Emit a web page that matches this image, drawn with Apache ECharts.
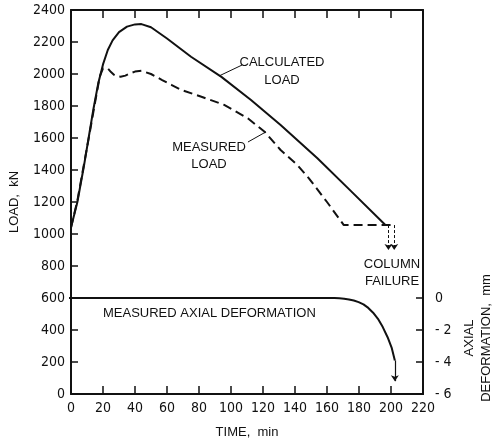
<!DOCTYPE html>
<html>
<head>
    <meta charset="UTF-8">
    <title></title>
    <script type="text/javascript" src="https://cdn.jsdelivr.net/npm/echarts@6/dist/echarts.min.js"></script>
    <style>
        body { margin: 0; background: #fff; }
        #main { width: 492px; height: 444px; }
    </style>
</head>
<body>
<div id="main"></div>
<script>
    // 计算荷载 (solid)
    var calcTime = [0, 4, 8, 11, 14, 17, 20, 23, 26, 30, 35, 40, 44, 50, 60, 75, 94, 112.5, 131, 154, 175, 196.5];
    var calcLoad = [1040, 1200, 1420, 1600, 1780, 1940, 2060, 2150, 2210, 2262, 2296, 2310, 2312, 2292, 2222, 2108, 1982, 1838, 1681, 1473, 1268, 1056];
    // 实测荷载 (dashed)
    var measTime = [0, 4, 8, 12, 15, 18, 20, 21, 23, 25, 27, 29, 31, 34, 37, 40, 44, 50, 57, 63, 69, 81.5, 96, 110.5, 121, 131, 141.5, 148.7, 160, 170.5, 201.5];
    var measLoad = [1040, 1210, 1430, 1650, 1820, 1985, 2035, 2046, 2035, 2012, 1994, 1985, 1983, 1990, 2004, 2015, 2020, 2000, 1962, 1931, 1900, 1858, 1806, 1723, 1639, 1525, 1431, 1348, 1200, 1056, 1056];
    // 实测轴向变形 (mm)
    var defTime = [0, 165, 168, 171, 174, 177, 180, 183, 186, 189, 192, 195, 198, 200.5, 202.5];
    var defVal = [0, 0, -0.01, -0.04, -0.09, -0.16, -0.26, -0.4, -0.62, -0.92, -1.3, -1.82, -2.45, -3.1, -3.9];

    var loadTicks = [0, 2400, 200];
    var timeTicks = [0, 220, 20];
    var defTicks = [-6, 0, 2];

    function zip(a, b) {
        var out = [];
        for (var i = 0; i < a.length; i++) out.push([a[i], b[i]]);
        return out;
    }

    var tickFont = "'Liberation Sans Narrow', 'DejaVu Sans Condensed', sans-serif";
    var textFont = "'Liberation Sans', sans-serif";
    var black = '#111';

    var myChart = echarts.init(document.getElementById('main'));
    myChart.setOption({
        animation: false,
        backgroundColor: '#fff',
        grid: [
            {left: 69, right: 69, top: 10, bottom: 50},
            {left: 69, right: 69, top: 298, bottom: 50}
        ],
        xAxis: [{
            type: 'value', gridIndex: 0, position: 'bottom',
            min: timeTicks[0], max: timeTicks[1], interval: timeTicks[2],
            name: 'TIME,  min', nameLocation: 'middle', nameGap: 32,
            nameTextStyle: {fontFamily: textFont, fontSize: 13, color: black},
            axisLine: {show: true, onZero: false, lineStyle: {color: black, width: 2}},
            axisTick: {show: true, inside: true, length: 8, lineStyle: {color: black, width: 1.5}},
            axisLabel: {margin: 7, fontFamily: tickFont, fontSize: 14, color: black},
            splitLine: {show: false}
        }, {
            type: 'value', gridIndex: 0, position: 'top',
            min: timeTicks[0], max: timeTicks[1], interval: timeTicks[2],
            axisLine: {show: true, onZero: false, lineStyle: {color: black, width: 2}},
            axisTick: {show: true, inside: true, length: 8, lineStyle: {color: black, width: 1.5}},
            axisLabel: {show: false},
            splitLine: {show: false}
        }, {
            type: 'value', gridIndex: 1, position: 'bottom',
            min: timeTicks[0], max: timeTicks[1],
            axisLine: {show: false, onZero: false},
            axisTick: {show: false},
            axisLabel: {show: false},
            splitLine: {show: false}
        }],
        yAxis: [{
            type: 'value', gridIndex: 0, position: 'left',
            min: loadTicks[0], max: loadTicks[1], interval: loadTicks[2],
            name: 'LOAD,  kN', nameLocation: 'middle', nameGap: 50,
            nameTextStyle: {fontFamily: textFont, fontSize: 13, color: black},
            axisLine: {show: true, onZero: false, lineStyle: {color: black, width: 2}},
            axisTick: {show: true, inside: true, length: 7, lineStyle: {color: black, width: 1.5}},
            axisLabel: {
                margin: 6, fontFamily: tickFont, fontSize: 14, color: black,
                formatter: function (v) { return String(v); }
            },
            splitLine: {show: false}
        }, {
            type: 'value', gridIndex: 0, position: 'right',
            min: loadTicks[0], max: loadTicks[1], interval: loadTicks[2],
            axisLine: {show: true, onZero: false, lineStyle: {color: black, width: 2}},
            axisTick: {show: false},
            axisLabel: {show: false},
            splitLine: {show: false}
        }, {
            type: 'value', gridIndex: 1, position: 'right',
            min: defTicks[0], max: defTicks[1], interval: defTicks[2],
            axisLine: {show: true, onZero: false, lineStyle: {color: black, width: 2}},
            axisTick: {show: true, inside: true, length: 7, lineStyle: {color: black, width: 1.5}},
            axisLabel: {
                margin: 12, fontFamily: tickFont, fontSize: 14, color: black,
                formatter: function (v) { return v === 0 ? '0' : '- ' + Math.abs(v); }
            },
            splitLine: {show: false}
        }],
        graphic: [
            {type: 'text', x: 282, y: 71, style: {text: 'CALCULATED\nLOAD', font: '13px ' + textFont, fill: black, textAlign: 'center', textVerticalAlign: 'middle', lineHeight: 18}},
            {type: 'text', x: 209, y: 156, style: {text: 'MEASURED\nLOAD', font: '13px ' + textFont, fill: black, textAlign: 'center', textVerticalAlign: 'middle', lineHeight: 17}},
            {type: 'text', x: 392, y: 273, style: {text: 'COLUMN\nFAILURE', font: '13px ' + textFont, fill: black, textAlign: 'center', textVerticalAlign: 'middle', lineHeight: 17}},
            {type: 'text', x: 103, y: 313, style: {text: 'MEASURED AXIAL DEFORMATION', font: '13px ' + textFont, fill: black, textAlign: 'left', textVerticalAlign: 'middle'}},
            {type: 'text', x: 478, y: 338, rotation: Math.PI / 2, style: {text: 'AXIAL\nDEFORMATION,  mm', font: '13px ' + textFont, fill: black, textAlign: 'center', textVerticalAlign: 'middle', lineHeight: 17}}
        ],
        series: [{
            name: 'Calculated load',
            type: 'line', xAxisIndex: 0, yAxisIndex: 0,
            data: zip(calcTime, calcLoad),
            showSymbol: false, silent: true,
            lineStyle: {color: black, width: 2},
            markLine: {
                silent: true, symbol: ['none', 'none'],
                label: {show: false},
                lineStyle: {color: black, width: 1, type: 'solid'},
                data: [[{coord: [106.9, 2056]}, {coord: [92.6, 1988]}]]
            }
        }, {
            name: 'Measured load',
            type: 'line', xAxisIndex: 0, yAxisIndex: 0,
            data: zip(measTime, measLoad),
            showSymbol: false, silent: true,
            lineStyle: {color: black, width: 2, type: [9, 5]},
            markLine: {
                silent: true, symbol: ['none', 'arrow'], symbolSize: 6,
                label: {show: false},
                lineStyle: {color: black, width: 1, type: [3, 2]},
                data: [
                    [{coord: [198.4, 1056]}, {coord: [198.4, 900]}],
                    [{coord: [202, 1056]}, {coord: [202, 900]}],
                    [{coord: [110.6, 1575], symbol: 'none', lineStyle: {type: 'solid'}}, {coord: [121.8, 1638], symbol: 'none'}]
                ]
            }
        }, {
            name: 'Measured axial deformation',
            type: 'line', xAxisIndex: 2, yAxisIndex: 2,
            data: zip(defTime, defVal),
            clip: false, showSymbol: false, silent: true,
            lineStyle: {color: black, width: 2},
            markLine: {
                silent: true, symbol: ['none', 'arrow'], symbolSize: 6,
                label: {show: false},
                lineStyle: {color: black, width: 1.2, type: 'solid'},
                data: [[{coord: [202.5, -3.9]}, {coord: [202.5, -5.2]}]]
            }
        }]
    });
</script>
</body>
</html>
